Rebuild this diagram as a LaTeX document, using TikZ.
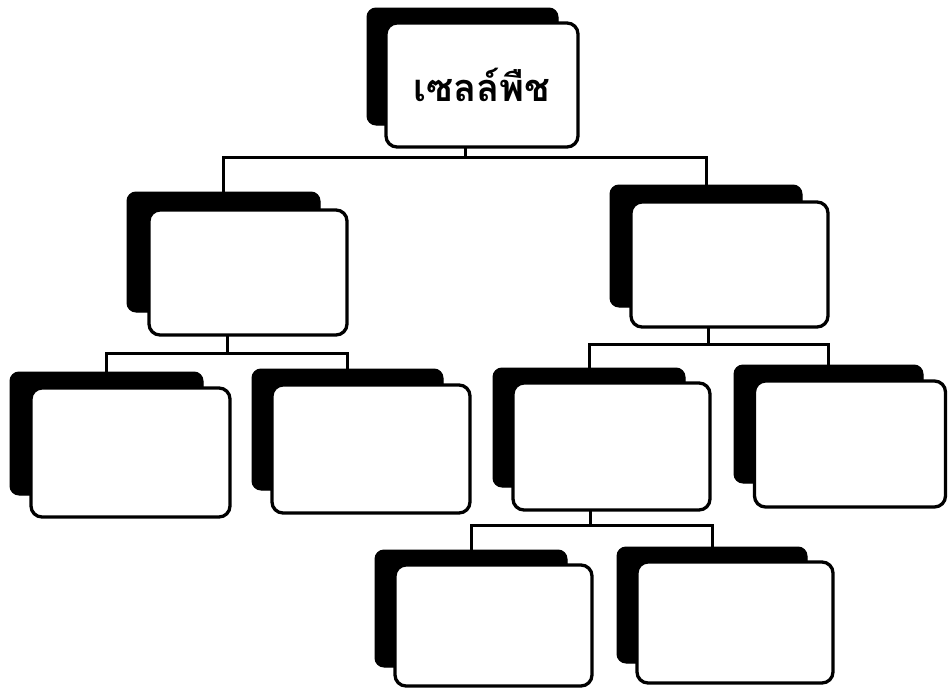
\documentclass[tikz,border=0pt]{standalone}
\usepackage{fontspec}
\newfontfamily\thaifont[Script=Thai]{Loma}
\usetikzlibrary{calc}
\tikzset{
  shadowbox/.style={fill=black, draw=black, line width=1pt, rounded corners=9pt, inner sep=0pt, outer sep=0pt},
  frontbox/.style={fill=white, draw=black, line width=3.3pt, rounded corners=11pt, inner sep=0pt, outer sep=0pt},
  conn/.style={draw=black, line width=3pt},
}
\begin{document}
\begin{tikzpicture}[x=1pt,y=-1pt]
\useasboundingbox (0,0) rectangle (948,688);
\fill[white] (0,0) rectangle (948,688);
% root
\node[shadowbox, minimum width=191, minimum height=117] (roots) at (462.5,66.5) {};
\node[frontbox, minimum width=192, minimum height=124] (root) at (482,85) {\thaifont\bfseries\fontsize{38}{44}\selectfont เซลล์พืช};
% level 1 left
\node[shadowbox, minimum width=193, minimum height=120] (l1s) at (223.5,252) {};
\node[frontbox, minimum width=198, minimum height=125] (l1) at (248,272.5) {};
% level 1 right
\node[shadowbox, minimum width=192, minimum height=122] (r1s) at (706,246) {};
\node[frontbox, minimum width=197, minimum height=125] (r1) at (729.5,264.5) {};
% leaves left
\node[shadowbox, minimum width=193, minimum height=123] (lls) at (106.5,433.5) {};
\node[frontbox, minimum width=199, minimum height=129] (ll) at (130.5,452.5) {};
\node[shadowbox, minimum width=191, minimum height=121] (lrs) at (347.5,429.5) {};
\node[frontbox, minimum width=198, minimum height=128] (lr) at (371,449) {};
% leaves right
\node[shadowbox, minimum width=192, minimum height=119] (rls) at (589,427.5) {};
\node[frontbox, minimum width=197, minimum height=127] (rl) at (611.5,446.5) {};
\node[shadowbox, minimum width=189, minimum height=118] (rrs) at (828.5,424) {};
\node[frontbox, minimum width=191, minimum height=126] (rr) at (850,444) {};
% bottom leaves
\node[shadowbox, minimum width=192, minimum height=117] (bls) at (471,608.5) {};
\node[frontbox, minimum width=197, minimum height=121] (bl) at (493.5,625.5) {};
\node[shadowbox, minimum width=190, minimum height=116] (brs) at (712,605) {};
\node[frontbox, minimum width=196, minimum height=121] (br) at (735,622.5) {};
% connectors
\coordinate (b0) at (465,157);
\draw[conn] (root.south -| b0) -- (b0);
\draw[conn] (l1s.north) -- (l1s.north |- b0) -- (r1s.north |- b0) -- (r1s.north);
\coordinate (b1) at (227,353);
\draw[conn] (l1.south -| b1) -- (b1);
\draw[conn] (lls.north) -- (lls.north |- b1) -- (lrs.north |- b1) -- (lrs.north);
\coordinate (b2) at (708,344);
\draw[conn] (r1.south -| b2) -- (b2);
\draw[conn] (rls.north) -- (rls.north |- b2) -- (rrs.north |- b2) -- (rrs.north);
\coordinate (b3) at (590,525);
\draw[conn] (rl.south -| b3) -- (b3);
\draw[conn] (bls.north) -- (bls.north |- b3) -- (brs.north |- b3) -- (brs.north);
\end{tikzpicture}
\end{document}
